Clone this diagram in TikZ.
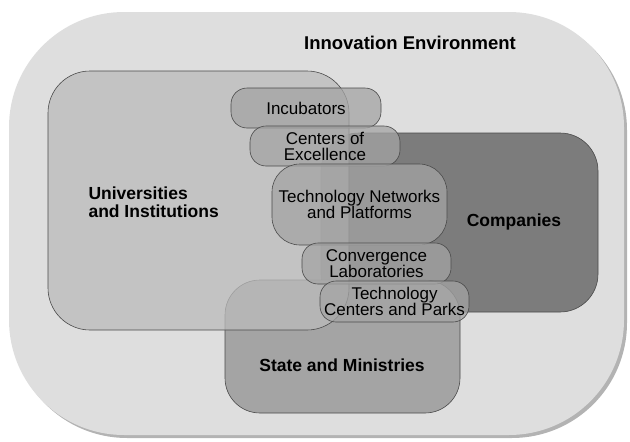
\documentclass[tikz,border=0pt]{standalone}
\usepackage{fontspec}
\setmainfont{Liberation Sans}
\usetikzlibrary{shadows}

\definecolor{envgray}{HTML}{DEDEDE}
\definecolor{unigray}{HTML}{BBBBBB}
\definecolor{comgray}{HTML}{7C7C7C}
\definecolor{stagray}{HTML}{A4A4A4}
\definecolor{boxgray}{HTML}{A4A4A4}
\definecolor{edgegray}{HTML}{4A4A4A}

\begin{document}
\begin{tikzpicture}[x=1pt,y=-1pt]
    \tikzstyle{big}=[rectangle, draw=edgegray, line width=0.6pt, inner sep=0pt]
    \tikzstyle{small}=[rectangle, draw=edgegray, line width=0.6pt, fill=boxgray, fill opacity=0.75,
        text opacity=1, rounded corners=16pt, align=center, inner sep=0pt,
        font=\fontsize{17}{16}\selectfont]
    \tikzstyle{lbl}=[font=\fontsize{17.5}{18}\bfseries\selectfont, align=left]
    \useasboundingbox (0,0) rectangle (630,442);
    \node[rectangle, fill=envgray, rounded corners=115pt, minimum width=615pt, minimum height=423pt,
        drop shadow={shadow xshift=3pt, shadow yshift=-3pt, opacity=0.6}] (env) at (316.5,223.5) {};
    \node[big, fill=comgray, rounded corners=38pt, minimum width=277pt, minimum height=179pt] (com) at (459.5,222.5) {};
    \node[big, fill=stagray, rounded corners=35pt, minimum width=235pt, minimum height=133pt] (sta) at (342.5,346.5) {};
    \node[big, fill=unigray, fill opacity=0.75, rounded corners=42pt, minimum width=301pt, minimum height=259pt] (uni) at (198.5,200.5) {};
    \node[small, minimum width=150pt, minimum height=40pt] (inc) at (306,108) {Incubators};
    \node[small, minimum width=150pt, minimum height=40pt] (coe) at (325,146) {Centers of\\Excellence};
    \node[small, rounded corners=28pt, minimum width=175pt, minimum height=81pt] (tnp) at (359.5,204.5) {Technology Networks\\and Platforms};
    \node[small, minimum width=149pt, minimum height=41pt] (cvl) at (376.5,263.5) {Convergence\\Laboratories};
    \node[small, minimum width=149pt, minimum height=41pt] (tcp) at (394.5,301.5) {Technology\\Centers and Parks};
    \node[lbl, font=\fontsize{18.5}{19}\bfseries\selectfont] (envlbl) at (410,43) {Innovation Environment};
    \node[lbl, anchor=west] (unilbl) at (85,202) {Universities\\and Institutions};
    \node[lbl] (comlbl) at (514,222) {Companies};
    \node[lbl] (stalbl) at (342,365) {State and Ministries};
\end{tikzpicture}
\end{document}
